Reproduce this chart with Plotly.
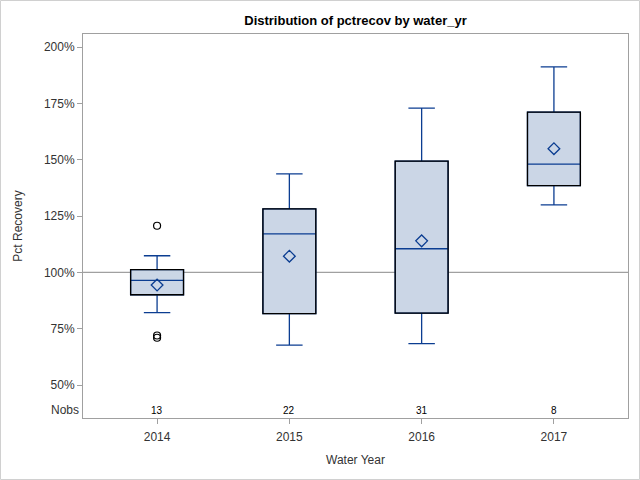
import plotly.graph_objects as go

years = ["2014", "2015", "2016", "2017"]
q1 = [90.1, 81.7, 81.9, 138.5]
median = [96.5, 117.1, 110.5, 148.1]
q3 = [101.2, 128.2, 149.4, 171.1]
lower_whisker = [82.2, 67.7, 68.4, 130.0]
upper_whisker = [107.4, 143.7, 172.9, 191.2]
means = [94.4, 107.2, 114.0, 154.9]
nobs = [13, 22, 31, 8]
outlier_years = ["2014", "2014", "2014"]
outlier_values = [120.7, 71.0, 72.0]
ytick_vals = [50, 75, 100, 125, 150, 175, 200]
ytick_text = ["50%", "75%", "100%", "125%", "150%", "175%", "200%"]

BLUE = "#0b3d91"
FILL = "#cbd6e6"
FRAME = "#a0a0a0"
FONT = "Liberation Sans, Arial, sans-serif"

fig = go.Figure()

# whiskers + median (blue)
fig.add_trace(go.Box(
    x=years, q1=q1, median=median, q3=q3,
    lowerfence=lower_whisker, upperfence=upper_whisker,
    fillcolor=FILL, line=dict(color=BLUE, width=1.3),
    width=0.4, whiskerwidth=0.5, boxpoints=False,
    showlegend=False, hoverinfo="skip",
))
# black box outline as an outlined bar from q1 to q3 (on an overlaying axis so it sits on top)
fig.add_trace(go.Bar(
    x=years, base=q1, y=[b - a for a, b in zip(q1, q3)],
    width=0.4, marker=dict(color="rgba(0,0,0,0)", line=dict(color="black", width=1.3)),
    showlegend=False, hoverinfo="skip", xaxis="x2", yaxis="y",
))
# means
fig.add_trace(go.Scatter(
    x=years, y=means, mode="markers",
    marker=dict(symbol="diamond-open", size=9, color=BLUE, line=dict(width=1.3, color=BLUE)),
    showlegend=False, hoverinfo="skip", xaxis="x2",
))
# outliers
fig.add_trace(go.Scatter(
    x=outlier_years, y=outlier_values, mode="markers",
    marker=dict(symbol="circle-open", size=7, color="black", line=dict(width=1.2, color="black")),
    showlegend=False, hoverinfo="skip", xaxis="x2",
))

# reference line at 100%
fig.add_shape(type="line", xref="paper", x0=0, x1=1, yref="y", y0=100, y1=100,
              line=dict(color="#a0a0a0", width=1.3), layer="below")

# Nobs
for i, n in enumerate(nobs):
    fig.add_annotation(xref="x", yref="y", x=i, y=38.9, text=str(n), showarrow=False,
                       font=dict(size=10, color="black", family=FONT))
fig.add_annotation(xref="paper", yref="y", x=0, y=38.9, text="Nobs", showarrow=False,
                   xanchor="right", xshift=-2, font=dict(size=12, color="#333333", family=FONT))

L, R, T, B = 83, 12, 34, 62
PW, PH = 640 - L - R, 480 - T - B
fig.add_shape(type="rect", xref="paper", yref="paper",
              x0=(0.5 - L) / PW, x1=(639.5 - L) / PW,
              y0=-(B - 0.5) / PH, y1=1 + (T - 0.5) / PH,
              line=dict(color="#d0d0d0", width=1), fillcolor="rgba(0,0,0,0)")

XRANGE = [-0.56, 3.56]
fig.update_layout(
    width=640, height=480,
    margin=dict(l=L, r=R, t=T, b=B),
    paper_bgcolor="white", plot_bgcolor="white",
    barmode="overlay",
    font=dict(family=FONT, color="#333333", size=12),
    title=dict(text="<b>Distribution of pctrecov by water_yr</b>", x=(L + PW / 2) / 640,
               xanchor="center", y=1 - 20 / 480, yanchor="middle",
               font=dict(size=13, color="black", family=FONT)),
    xaxis=dict(
        type="category", range=XRANGE, categoryorder="array", categoryarray=years,
        showline=True, linecolor=FRAME, linewidth=1, mirror=True,
        ticks="outside", ticklen=5, tickcolor=FRAME, ticklabelstandoff=3,
        showgrid=False, zeroline=False,
        tickfont=dict(size=12, color="#333333"),
        title=dict(text="Water Year", font=dict(size=12, color="#333333"), standoff=12),
    ),
    xaxis2=dict(
        type="category", range=XRANGE, categoryorder="array", categoryarray=years,
        overlaying="x", matches="x", visible=False,
    ),
    yaxis=dict(
        range=[35.4, 205.8],
        tickvals=ytick_vals, ticktext=ytick_text,
        showline=True, linecolor=FRAME, linewidth=1, mirror=True,
        ticks="outside", ticklen=5, tickcolor=FRAME,
        showgrid=False, zeroline=False,
        tickfont=dict(size=12, color="#333333"),
        title=dict(text="Pct Recovery", font=dict(size=12, color="#333333"), standoff=18),
    ),
)

fig.write_html("out.html", config={"displayModeBar": False},
               post_script="document.body.style.margin='0';document.body.style.overflow='hidden';")
